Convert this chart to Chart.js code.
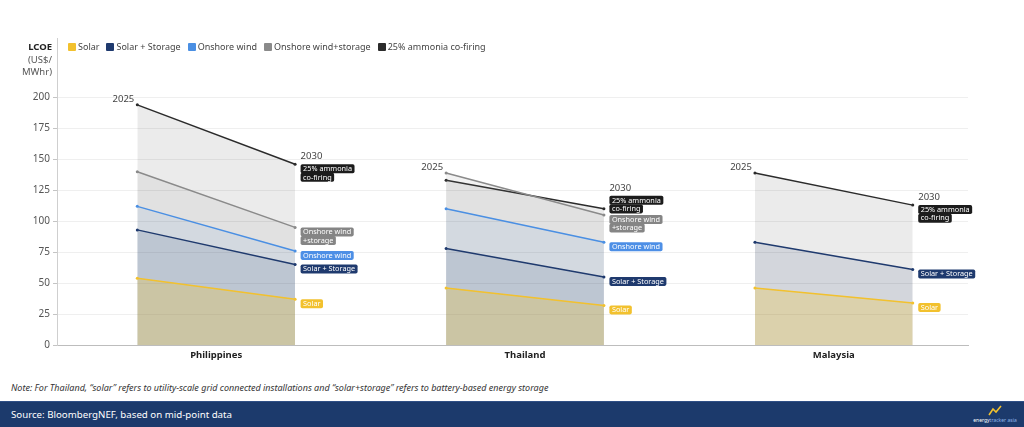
<!DOCTYPE html>
<html>
<head>
<meta charset="utf-8">
<script src="https://cdn.jsdelivr.net/npm/chart.js@4.4.1/dist/chart.umd.min.js"></script>
<style>
  html, body { margin: 0; padding: 0; background: #fff; font-family: "Noto Sans", sans-serif; }
  #wrap { position: relative; width: 1024px; height: 427px; overflow: hidden; }
  #chartBox { position: absolute; left: 0; top: 0; width: 1024px; height: 372px; }
  #ytitle { position: absolute; left: 0; top: 41px; width: 52px; text-align: right; font-size: 9.5px; line-height: 12.5px; color: #555; }
  #ytitle b { color: #222; }
  #legend { position: absolute; left: 68px; top: 41px; display: flex; gap: 7px; font-size: 9px; line-height: 12px; color: #444; white-space: nowrap; }
  #legend .it { display: flex; align-items: center; }
  #legend .sw { width: 8px; height: 8px; margin-right: 2px; border-radius: 1px; }
  #note { position: absolute; left: 11px; top: 381px; font-size: 9px; font-style: italic; color: #333; white-space: nowrap; }
  #footer { position: absolute; left: 0; top: 401px; width: 1024px; height: 26px; background: #1c3a6c; border-top: 1px solid #2f4f86; box-sizing: border-box; }
  #source { position: absolute; left: 11px; top: 0; line-height: 25px; font-size: 9.7px; color: #fff; }
  #logo { position: absolute; right: 5px; top: 3px; width: 48px; text-align: center; font-size: 5px; line-height: 6px; color: #fff; }
  #logo span { color: #8fb4e8; }
</style>
</head>
<body>
<div id="wrap">
  <div id="chartBox"><canvas id="c"></canvas></div>
  <div id="ytitle"><b>LCOE</b><br>(US$/<br>MWhr)</div>
  <div id="legend"></div>
  <div id="note">Note: For Thailand, “solar” refers to utility-scale grid connected installations and “solar+storage” refers to battery-based energy storage</div>
  <div id="footer">
    <div id="source">Source: BloombergNEF, based on mid-point data</div>
    <div id="logo">
      <svg width="14" height="11" viewBox="0 0 14 11"><polyline points="1,10 5,4 8,7 13,1" fill="none" stroke="#f2c12e" stroke-width="1.6"/></svg><br>energy<span>tracker asia</span>
    </div>
  </div>
</div>
<script>
// ── datos (US$/MWh, punto medio) — orden: [PH 2025, PH 2030, TH 2025, TH 2030, MY 2025, MY 2030]
const countries = ['Philippines', 'Thailand', 'Malaysia'];
const years = ['2025', '2030'];
const seriesNames = ['Solar', 'Solar + Storage', 'Onshore wind', 'Onshore wind+storage', '25% ammonia co-firing'];
const solar        = [54, 37, 46, 32, 46, 34];
const solarStorage = [93, 65, 78, 55, 83, 61];
const onshoreWind  = [112, 76, 110, 83, null, null];
const windStorage  = [140, 95, 139, 105, null, null];
const ammonia      = [194, 146, 133, 110, 139, 113];
const tagLines = [['Solar'], ['Solar + Storage'], ['Onshore wind'], ['Onshore wind', '+storage'], ['25% ammonia', 'co-firing']];
const yTicks = [0, 25, 50, 75, 100, 125, 150, 175, 200];

const seriesValues = [solar, solarStorage, onshoreWind, windStorage, ammonia];
const lineColors = ['#f2c12e', '#1f3a6e', '#4a8fe3', '#8a8a8a', '#2b2b2b'];
const fillColors = ['rgba(242,193,46,0.28)', 'rgba(30,58,110,0.12)', 'rgba(74,144,226,0.09)', 'rgba(128,128,128,0.10)', 'rgba(0,0,0,0.08)'];
const tagColors = ['#f2c12e', '#1f3a6e', '#4d8fe6', '#858585', '#1c1c1c'];

const YEAR_GAP = 0.511; // distancia 2025→2030 dentro de cada país (en unidades de país)

// leyenda en HTML (la de Chart.js dentro del área se apila en vertical)
document.getElementById('legend').innerHTML = seriesNames.map((n, i) =>
  `<div class="it"><span class="sw" style="background:${lineColors[i]}"></span>${n}</div>`).join('');

// puntos {x,y}; un null entre países corta la línea y el relleno
function toPoints(vals) {
  const pts = [];
  countries.forEach((c, ci) => {
    years.forEach((yr, k) => pts.push({ x: ci + k * YEAR_GAP, y: vals[ci * 2 + k] }));
    pts.push({ x: ci + 0.75, y: null });
  });
  return pts;
}

const FONT = '"Noto Sans", sans-serif';

// ── etiquetas: "2025", "2030" y cajitas de color al final de cada serie ──
const tagsPlugin = {
  id: 'tags',
  afterDatasetsDraw(chart) {
    const ctx = chart.ctx;
    ctx.save();
    const LH = 8.6, PAD = 2.5;
    countries.forEach((c, ci) => {
      const i0 = ci * 3, i1 = ci * 3 + 1;
      // 2025 arriba a la izquierda del punto más alto
      let topY = Infinity, topX = 0;
      seriesValues.forEach((vals, di) => {
        const p = chart.getDatasetMeta(di).data[i0];
        if (vals[ci * 2] != null && p.y < topY) { topY = p.y; topX = p.x; }
      });
      ctx.font = '9.5px ' + FONT;
      ctx.fillStyle = '#444';
      ctx.textAlign = 'right';
      ctx.textBaseline = 'alphabetic';
      ctx.fillText(years[0], topX - 3, topY - 3);

      // cajas 2030, de abajo hacia arriba empujando para no encimarse
      const items = [];
      seriesValues.forEach((vals, di) => {
        if (vals[ci * 2 + 1] == null) return;
        const p = chart.getDatasetMeta(di).data[i1];
        items.push({ di, x: p.x, y: p.y, h: tagLines[di].length * LH });
      });
      items.sort((a, b) => b.y - a.y);
      let limit = Infinity;
      items.forEach(it => {
        let top = it.y;
        if (top + it.h > limit - 2) top = limit - 2 - it.h;
        it.top = top;
        limit = top;
      });
      ctx.font = '7.3px ' + FONT;
      ctx.textAlign = 'left';
      ctx.textBaseline = 'middle';
      items.forEach(it => {
        const bx = it.x + 5.5;
        tagLines[it.di].forEach((txt, j) => {
          const w = ctx.measureText(txt).width + PAD * 2;
          const by = it.top + j * LH;
          ctx.fillStyle = tagColors[it.di];
          ctx.beginPath();
          ctx.roundRect(bx, by, w, LH + 0.4, 1.8);
          ctx.fill();
          ctx.fillStyle = '#fff';
          ctx.fillText(txt, bx + PAD, by + LH / 2 + 0.3);
        });
      });
      const first = items[items.length - 1];
      ctx.font = '9.5px ' + FONT;
      ctx.fillStyle = '#444';
      ctx.textBaseline = 'alphabetic';
      ctx.fillText(years[1], first.x + 5.5, first.top - 5);
    });
    ctx.restore();
  }
};

new Chart(document.getElementById('c'), {
  type: 'line',
  data: {
    datasets: seriesValues.map((vals, di) => ({
      label: seriesNames[di],
      data: toPoints(vals),
      borderColor: lineColors[di],
      backgroundColor: fillColors[di],
      fill: 'origin',
      borderWidth: 1.5,
      pointRadius: 1.5,
      pointBackgroundColor: lineColors[di],
      pointBorderWidth: 0,
      tension: 0,
      spanGaps: false,
    })),
  },
  options: {
    responsive: true,
    maintainAspectRatio: false,
    animation: false,
    layout: { padding: { top: 38, right: 56, left: 0, bottom: 0 } },
    plugins: {
      legend: { display: false },
      tooltip: { enabled: false },
    },
    scales: {
      x: {
        type: 'linear',
        min: -0.26,
        max: 2.69,
        afterBuildTicks: (s) => { s.ticks = countries.map((c, i) => ({ value: i + YEAR_GAP / 2 })); },
        afterFit: (s) => { s.height = 27; },
        ticks: { autoSkip: false, maxRotation: 0, padding: 5, color: '#222', font: { family: FONT, size: 9.5, weight: 'bold' }, callback: (v, i) => countries[i] },
        grid: { display: false, drawTicks: false },
        border: { color: '#bdbdbd' },
      },
      y: {
        min: 0,
        max: 248,
        afterBuildTicks: (s) => { s.ticks = yTicks.map(v => ({ value: v })); },
        afterFit: (s) => { s.width = 57; },
        ticks: { padding: 3, color: '#555', font: { family: FONT, size: 10 } },
        grid: { color: '#efefef', tickColor: '#c4c4c4', tickLength: 4 },
        border: { color: '#cfcfcf' },
      },
    },
  },
  plugins: [tagsPlugin],
});
</script>
</body>
</html>
